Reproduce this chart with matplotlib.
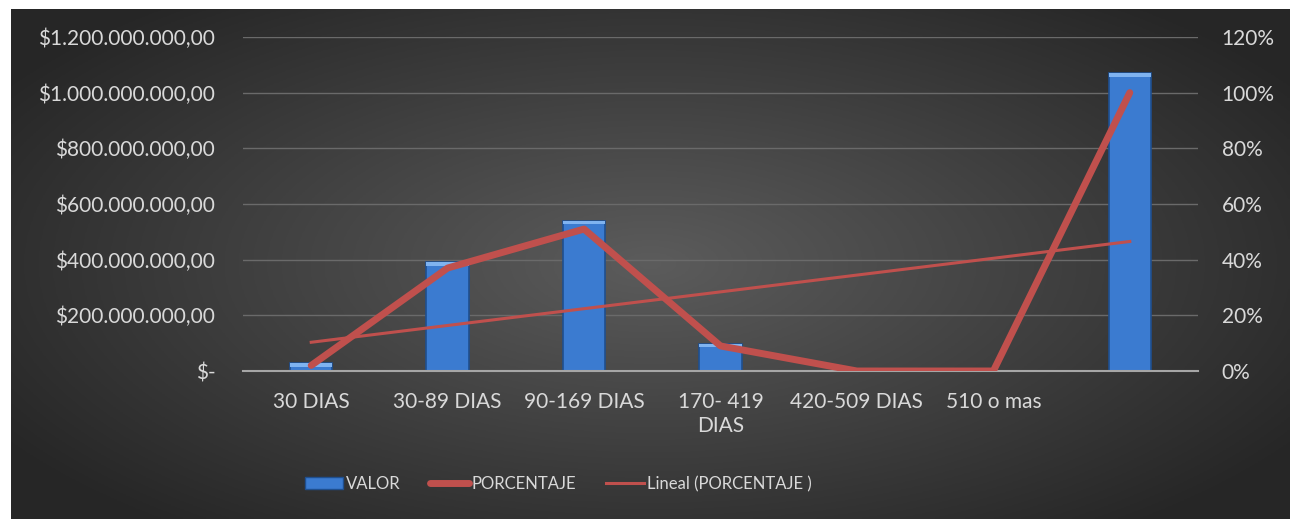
import numpy as np
import matplotlib.pyplot as plt
from matplotlib.lines import Line2D
from matplotlib.patches import Patch
from matplotlib.ticker import FuncFormatter

# Datos
categorias = ["30 DIAS", "30-89 DIAS", "90-169 DIAS", "170- 419\nDIAS",
              "420-509 DIAS", "510 o mas", ""]
valor = [28e6, 391e6, 539e6, 97e6, 0, 0, 1070e6]
porcentaje = [2, 37, 51, 9, 0, 0, 100]

plt.rcParams['font.family'] = ['Lato', 'DejaVu Sans']
texto = "#d9d9d9"
rojo = "#c0504d"

fig = plt.figure(figsize=(12.9, 5.19), dpi=100)
fig.patch.set_facecolor("white")

# Fondo con degradado radial
bg = fig.add_axes([11 / 1290, 0, 1 - 11 / 1290, 1 - 9 / 519])
bg.set_axis_off()
xx, yy = np.meshgrid(np.linspace(-1, 1, 400), np.linspace(-1, 1, 200))
r = np.clip(np.sqrt(xx ** 2 + (yy * 0.9) ** 2), 0, 1.2) / 1.2
gris = 0.36 - 0.21 * r
bg.imshow(np.dstack([gris, gris, gris]), aspect="auto", extent=[0, 1, 0, 1])

ax = fig.add_axes([243 / 1290, 1 - 371 / 519, (1198 - 243) / 1290, (371 - 37) / 519])
ax.patch.set_alpha(0)
x = np.arange(len(categorias))

ax.bar(x, valor, width=0.31, color="#3b7bd0", edgecolor="#1f4f8f", linewidth=1.2,
       zorder=2)
# brillo superior de las barras
for xi, v in zip(x, valor):
    if v > 0:
        ax.bar(xi, min(v, 12e6), bottom=v - min(v, 12e6), width=0.31,
               color="#7fb3f0", linewidth=0, zorder=2.5)

ax.set_xlim(-0.5, len(categorias) - 0.5)
ax.set_ylim(0, 1.2e9)
ax.set_yticks(np.arange(0, 1.21e9, 2e8))


def pesos(v, pos):
    if v == 0:
        return "$-"
    s = f"{v:,.2f}".replace(",", "X").replace(".", ",").replace("X", ".")
    return "$" + s


ax.yaxis.set_major_formatter(FuncFormatter(pesos))
ax.set_xticks(x)
ax.set_xticklabels(categorias, linespacing=1.25)
ax.tick_params(colors=texto, labelsize=15, length=0)
ax.tick_params(axis="x", pad=15)
ax.tick_params(axis="y", pad=20)
ax.grid(axis="y", color="#6a6a6a", linewidth=1, zorder=0)
for s in ["top", "right", "left"]:
    ax.spines[s].set_visible(False)
ax.spines["bottom"].set_color("#a6a6a6")
ax.spines["bottom"].set_linewidth(1.5)
ax.spines["bottom"].set_zorder(3)

ax2 = ax.twinx()
ax2.set_ylim(0, 120)
ax2.set_yticks(np.arange(0, 121, 20))
ax2.yaxis.set_major_formatter(FuncFormatter(lambda v, p: f"{v:.0f}%"))
ax2.tick_params(colors=texto, labelsize=15, length=0, pad=17)
for s in ax2.spines.values():
    s.set_visible(False)

ax2.plot(x, porcentaje, color=rojo, linewidth=5, solid_capstyle="round",
         solid_joinstyle="round", zorder=4)
m, b = np.polyfit(x, porcentaje, 1)
ax2.plot(x, m * x + b, color=rojo, linewidth=2.2, zorder=4)

handles = [Patch(facecolor="#3b7bd0", edgecolor="#1f4f8f"),
           Line2D([], [], color=rojo, linewidth=5, solid_capstyle="round"),
           Line2D([], [], color=rojo, linewidth=2.2)]
fig.legend(handles, ["VALOR", "PORCENTAJE", "Lineal (PORCENTAJE )"],
           loc="center", bbox_to_anchor=(558 / 1290, 1 - 484 / 519), ncol=3,
           frameon=False, fontsize=12, labelcolor=texto, handlelength=2.3,
           handletextpad=0.15, columnspacing=1.8)

fig.savefig("out.png", dpi=100, facecolor=fig.get_facecolor())
